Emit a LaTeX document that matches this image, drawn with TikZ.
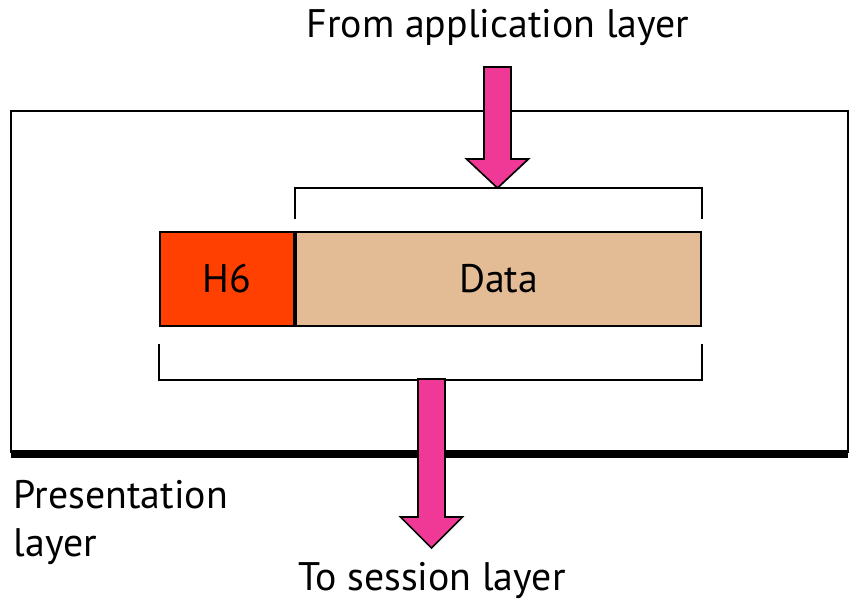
\documentclass[tikz,border=0pt]{standalone}
\usepackage{fontspec}
\setmainfont{PT Sans}
\usetikzlibrary{positioning}

\definecolor{arrowpink}{RGB}{240,57,150}
\definecolor{headred}{RGB}{255,64,0}
\definecolor{datatan}{RGB}{227,188,150}

% fat down arrow: centre x, top, start of head, tip
\newcommand\fatarrow[4]{%
  \filldraw[fill=arrowpink, line width=1.4pt, line join=miter]
    (#1-13.5,#2) -- (#1+13.5,#2) -- (#1+13.5,#3) -- (#1+31,#3)
    -- (#1,#4) -- (#1-31,#3) -- (#1-13.5,#3) -- cycle;}

\tikzset{
  field/.style={draw, line width=1.8pt, minimum height=2.82cm, inner sep=0pt},
  label/.style={font=\fontsize{34}{41}\selectfont, inner sep=0pt}
}

\begin{document}
\begin{tikzpicture}[x=0.03cm, y=-0.03cm, line width=1.4pt]
  \useasboundingbox (0,0) rectangle (850,613);
  % layer box
  \draw (11,111) rectangle (848,452);
  \draw[line width=6pt] (11,454) -- (848,454);

  \node[field, fill=headred, minimum width=4.02cm, label] (h6) at (227,279) {H6};
  \node[field, fill=datatan, minimum width=12.15cm, label, right=0pt of h6] (data) {Data};

  % brackets
  \draw ([yshift=0.36cm]data.north west) -- ++(0,-31) -| ([yshift=0.36cm]data.north east);
  \draw ([yshift=-0.51cm]h6.south west) -- ++(0,36) -| ([yshift=-0.51cm]data.south east);

  \fatarrow{497.5}{67}{159}{188}
  \fatarrow{431.5}{379}{517}{548}

  \node[label] (from) at (498,27) {From application layer};
  \node[label] (to) at (432,580) {To session layer};
  \node[label, anchor=north west, align=left] (pres) at (13,479) {Presentation\\layer};
\end{tikzpicture}
\end{document}
